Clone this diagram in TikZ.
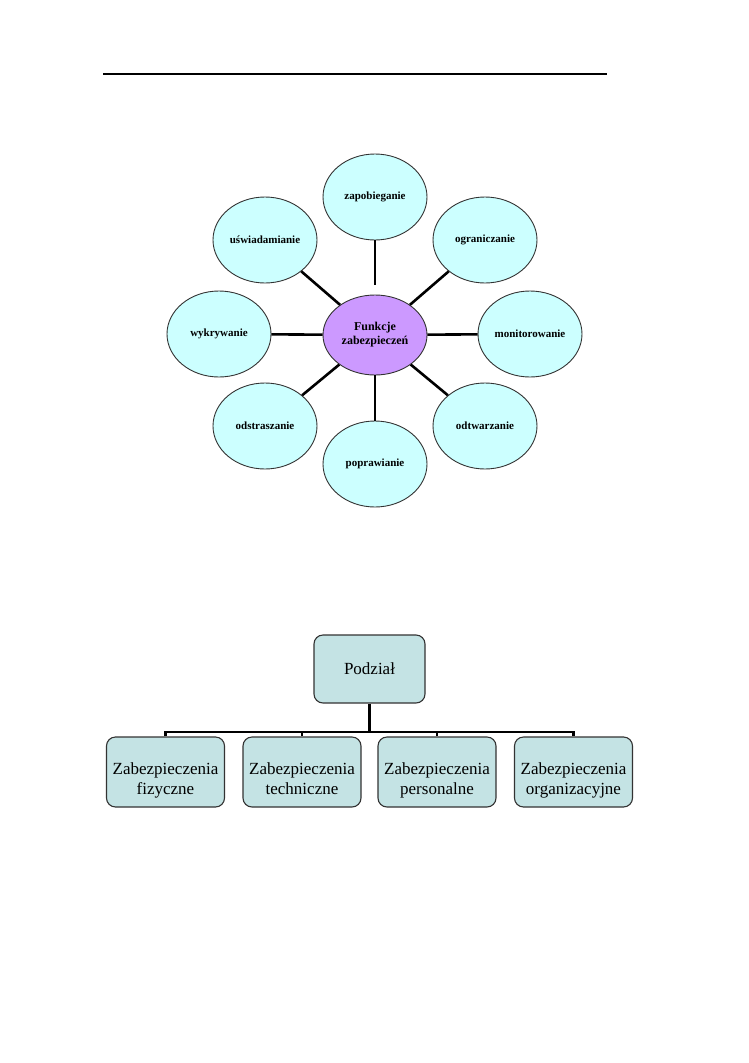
\documentclass[tikz,border=0pt]{standalone}
\usepackage{fontspec}
\setmainfont{Liberation Serif}
\definecolor{mCyan}{HTML}{CCFFFF}
\definecolor{mLilac}{HTML}{CC99FF}
\definecolor{mSlate}{HTML}{C4E3E4}
\definecolor{mEdge}{HTML}{333333}
\usepackage{tikz}
\usetikzlibrary{arrows.meta, positioning, shapes.geometric}

\begin{document}
\begin{tikzpicture}[x=1pt, y=-1pt,
  funkcja/.style={ellipse, draw=mEdge, line width=0.9pt, fill=mCyan, inner sep=0pt,
    minimum width=104pt, minimum height=86pt, font=\fontsize{11}{13}\selectfont\bfseries},
  srodek/.style={funkcja, fill=mLilac, minimum height=80pt, align=center,
    font=\fontsize{12}{14}\selectfont\bfseries},
  ramka/.style={draw=mEdge, line width=1.1pt, fill=mSlate, rounded corners=9pt,
    minimum width=118pt, minimum height=70pt, align=center,
    font=\fontsize{17}{20}\selectfont},
  zabez/.style={ramka, text height=50pt, text depth=6pt},
  ramie/.style={line width=2.6pt},
  galaz/.style={line width=2.2pt}]
\useasboundingbox (0,0) rectangle (748,1063);
\draw[line width=1.2pt] (103,74) -- (607,74);

\node[srodek] (fz) at (375,335) {Funkcje\\zabezpieczeń};
\node[funkcja] (zap) at (375,197) {zapobieganie};
\node[funkcja] (usw) at (265,240) {uświadamianie};
\node[funkcja] (ogr) at (485,240) {ograniczanie};
\node[funkcja] (wyk) at (219,334) {wykrywanie};
\node[funkcja] (mon) at (530,334) {monitorowanie};
\node[funkcja] (ods) at (265,426) {odstraszanie};
\node[funkcja] (odt) at (485,426) {odtwarzanie};
\node[funkcja] (pop) at (375,464) {poprawianie};
\draw[ramie, shorten <=10pt] (fz) -- (zap);
\foreach \f in {usw, ogr, wyk, mon, ods, odt, pop}
  \draw[ramie] (fz) -- (\f);

\node[ramka, minimum width=111pt, minimum height=68pt] (pod) at (369.5,669) {Podział};
\node[zabez] (zf) at (165.5,772) {Zabezpieczenia\\fizyczne};
\node[zabez] (zt) at (302,772) {Zabezpieczenia\\techniczne};
\node[zabez] (zp) at (437,772) {Zabezpieczenia\\personalne};
\node[zabez] (zo) at (573.5,772) {Zabezpieczenia\\organizacyjne};
\coordinate (szyna) at (369.5,732);
\draw[galaz] (pod) -- (szyna);
\foreach \b in {zf, zt, zp, zo}
  \draw[galaz] (\b.north) |- (szyna);
\end{tikzpicture}
\end{document}
